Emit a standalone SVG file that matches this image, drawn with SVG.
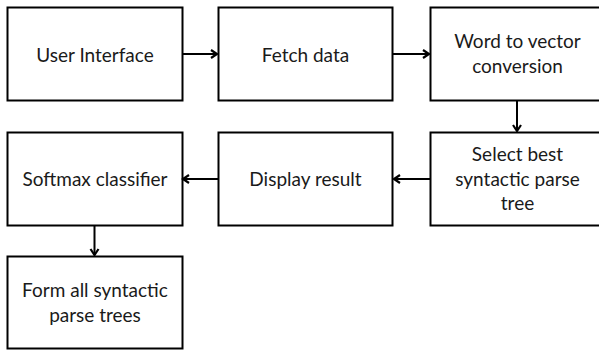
<svg xmlns="http://www.w3.org/2000/svg" width="599" height="351" viewBox="0 0 599 351">
  <defs>
    <style>
      .box { fill: #ffffff; stroke: #000000; stroke-width: 2; }
      .lbl { font-family: "Lato", "Open Sans", sans-serif; font-size: 19px; fill: #1a1a1a; text-anchor: middle; }
      .wire { fill: none; stroke: #000000; stroke-width: 2; }
    </style>
    <marker id="arrow" viewBox="0 0 10 10" refX="9" refY="5" markerWidth="10" markerHeight="10" markerUnits="userSpaceOnUse" orient="auto" overflow="visible">
      <path d="M3,1 L9,5 L3,9" fill="none" stroke="#000000" stroke-width="2.2" stroke-linejoin="miter"/>
    </marker>
  </defs>
  <rect width="599" height="351" fill="#ffffff"/>

  <g id="user-interface">
    <rect class="box" x="7.5" y="7.5" width="175" height="93"/>
    <text class="lbl" x="95" y="62">User Interface</text>
  </g>
  <g id="fetch-data">
    <rect class="box" x="218.5" y="7.5" width="174" height="93"/>
    <text class="lbl" x="305.5" y="62">Fetch data</text>
  </g>
  <g id="word-to-vector">
    <rect class="box" x="430.5" y="7.5" width="175" height="93"/>
    <text class="lbl" x="517.5" y="48">Word to vector</text>
    <text class="lbl" x="517.5" y="73">conversion</text>
  </g>
  <g id="select-best">
    <rect class="box" x="430.5" y="132.5" width="175" height="93"/>
    <text class="lbl" x="517.5" y="161">Select best</text>
    <text class="lbl" x="517.5" y="186">syntactic parse</text>
    <text class="lbl" x="517.5" y="210">tree</text>
  </g>
  <g id="display-result">
    <rect class="box" x="218.5" y="132.5" width="174" height="93"/>
    <text class="lbl" x="305.5" y="186">Display result</text>
  </g>
  <g id="softmax">
    <rect class="box" x="7.5" y="132.5" width="175" height="93"/>
    <text class="lbl" x="95" y="186">Softmax classifier</text>
  </g>
  <g id="form-trees">
    <rect class="box" x="7.5" y="256.5" width="175" height="92"/>
    <text class="lbl" x="95" y="297">Form all syntactic</text>
    <text class="lbl" x="95" y="322">parse trees</text>
  </g>

  <g id="connectors">
    <line class="wire" x1="183" y1="54" x2="217" y2="54" marker-end="url(#arrow)"/>
    <line class="wire" x1="393" y1="54" x2="429" y2="54" marker-end="url(#arrow)"/>
    <line class="wire" x1="517" y1="101" x2="517" y2="131" marker-end="url(#arrow)"/>
    <line class="wire" x1="430" y1="179" x2="394" y2="179" marker-end="url(#arrow)"/>
    <line class="wire" x1="218" y1="179" x2="183" y2="179" marker-end="url(#arrow)"/>
    <line class="wire" x1="94.5" y1="226" x2="94.5" y2="255" marker-end="url(#arrow)"/>
  </g>
</svg>
